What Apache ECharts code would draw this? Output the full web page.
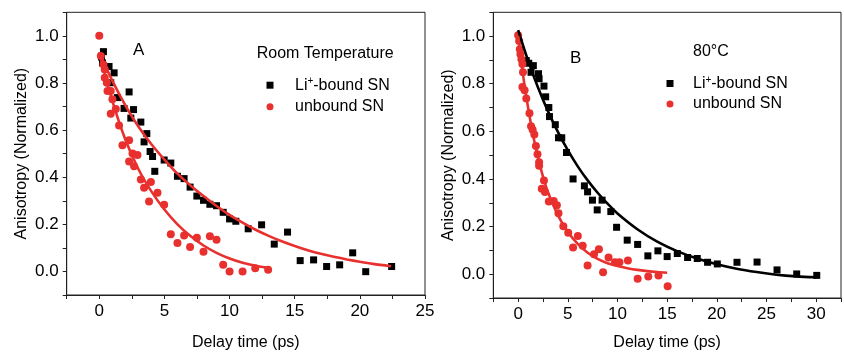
<!DOCTYPE html>
<html><head><meta charset="utf-8">
<script src="https://cdn.jsdelivr.net/npm/echarts@6/dist/echarts.min.js"></script>
<style>html,body{margin:0;padding:0;background:#fff}#c{width:844px;height:356px}</style>
</head><body><div id="c"></div>
<script>
// ---- tick labels ----
const xLabelsA = [0, 5, 10, 15, 20, 25];
const xLabelsB = [0, 5, 10, 15, 20, 25, 30];
const yLabels = [0, 0.2, 0.4, 0.6, 0.8, 1.0];
const seriesNames = ['Li+-bound SN', 'unbound SN'];

// ---- Panel A (room temperature) ----
const aBound = [[0.32,0.933],[0.17,0.91],[0.25,0.885],[0.75,0.87],[1.14,0.843],[0.88,0.801],[2.29,0.762],[1.4,0.738],[1.9,0.692],[2.63,0.687],[2.42,0.651],[3.19,0.634],[3.65,0.585],[3.44,0.55],[3.9,0.509],[4.09,0.488],[4.26,0.425],[4.98,0.473],[5.49,0.46],[6.0,0.404],[6.51,0.394],[6.97,0.358],[7.49,0.32],[8.0,0.302],[8.49,0.285],[9.0,0.279],[9.51,0.251],[10.0,0.223],[10.48,0.213],[11.43,0.181],[12.46,0.198],[13.43,0.116],[14.45,0.167],[15.42,0.046],[16.45,0.049],[17.45,0.021],[18.45,0.028],[19.45,0.079],[20.45,-0.001],[22.44,0.021]];
const aUnbound = [[0,1.0],[0.12,0.915],[0.32,0.878],[0.42,0.857],[0.42,0.822],[0.58,0.801],[0.63,0.766],[0.88,0.766],[1.01,0.731],[0.88,0.669],[1.27,0.69],[1.52,0.62],[1.78,0.536],[2.29,0.557],[2.55,0.501],[2.93,0.494],[2.29,0.467],[2.67,0.446],[3.19,0.39],[3.44,0.355],[3.96,0.38],[4.47,0.334],[3.82,0.297],[4.98,0.283],[5.49,0.158],[6.0,0.121],[6.51,0.153],[6.97,0.104],[7.49,0.143],[8.0,0.084],[8.49,0.149],[9.0,0.135],[9.51,0.028],[10.0,0.0],[11.0,0.0],[11.97,0.014],[12.96,0.007]];
const aBoundFit = [[0,0.93],[1,0.81],[2,0.705],[3,0.615],[4,0.54],[5,0.475],[6,0.415],[7,0.365],[8,0.32],[9,0.278],[10,0.24],[11,0.207],[12,0.177],[13,0.151],[14,0.128],[15,0.108],[16,0.09],[17,0.075],[18,0.062],[19,0.051],[20,0.041],[21,0.032],[22.4,0.022]];
const aUnboundFit = [[0,0.93],[1,0.725],[2,0.56],[3,0.435],[4,0.34],[5,0.263],[6,0.2],[7,0.15],[8,0.11],[9,0.079],[10,0.055],[11,0.037],[12,0.024],[13,0.015]];

// ---- Panel B (80 C) ----
const bBound = [[0.82,0.897],[1.07,0.886],[1.53,0.876],[1.3,0.848],[2.05,0.842],[2.11,0.821],[2.6,0.79],[2.77,0.745],[3.09,0.7],[3.16,0.662],[3.74,0.628],[4.06,0.573],[4.39,0.573],[4.87,0.511],[5.53,0.4],[6.67,0.371],[6.99,0.346],[7.48,0.311],[8.45,0.311],[7.96,0.27],[9.33,0.263],[9.91,0.197],[10.98,0.143],[12.03,0.125],[13.06,0.077],[14.07,0.098],[15.0,0.074],[16.02,0.087],[17.06,0.07],[18.03,0.066],[19.07,0.05],[20.05,0.043],[22.03,0.05],[24.05,0.051],[26.06,0.018],[28.04,0.001],[30.06,-0.005]];
const bUnbound = [[0,1.004],[0.1,0.979],[0.17,0.945],[0.23,0.924],[0.33,0.903],[0.43,0.883],[0.49,0.848],[0.43,0.786],[0.65,0.773],[0.82,0.738],[1.14,0.676],[1.3,0.621],[1.46,0.607],[1.63,0.587],[1.79,0.538],[1.95,0.504],[2.11,0.47],[2.11,0.456],[2.6,0.394],[2.38,0.359],[2.7,0.345],[3.09,0.305],[3.58,0.307],[3.9,0.29],[4.06,0.256],[4.55,0.201],[5.04,0.174],[6.01,0.16],[5.53,0.112],[6.5,0.119],[6.99,0.036],[7.64,0.084],[8.13,0.105],[8.55,0.008],[9.1,0.07],[9.75,0.05],[10.2,0.05],[11.05,0.057],[12.03,-0.019],[13.1,-0.01],[14.13,-0.005],[15.05,-0.051]];
const bBoundFit = [[0,1.025],[1,0.897],[2,0.784],[3,0.685],[4,0.598],[5,0.521],[6,0.453],[7,0.394],[8,0.342],[9,0.296],[10,0.255],[12,0.189],[14,0.137],[16,0.097],[18,0.066],[20,0.042],[22,0.023],[24,0.009],[26,-0.002],[28,-0.009],[30,-0.013]];
const bUnboundFit = [[0,1.0],[0.5,0.835],[1,0.7],[1.5,0.585],[2,0.49],[2.5,0.41],[3,0.345],[4,0.248],[5,0.178],[6,0.127],[7,0.09],[8,0.064],[9,0.046],[10,0.034],[11,0.025],[12,0.018],[13,0.013],[14,0.009],[15,0.006]];

const FONT = 'Liberation Sans, Arial, sans-serif';
const RED = '#e8302e';
const BLACK = '#000';
const AXC = '#222';

function has(list, v) { return list.some(t => Math.abs(t - v) < 1e-6); }

function xAxis(gi, min, max, labels, gap) {
  return {
    type: 'value', gridIndex: gi, min: min, max: max, interval: 2.5,
    name: 'Delay time (ps)', nameLocation: 'middle', nameGap: gap,
    nameTextStyle: { fontSize: 16, color: '#000', fontFamily: FONT },
    axisLine: { onZero: false, lineStyle: { color: AXC, width: 1 } },
    axisTick: { inside: false, length: 4, lineStyle: { color: AXC } },
    axisLabel: { margin: 8, fontSize: 17, color: '#000', fontFamily: FONT,
      formatter: v => has(labels, v) ? String(Math.round(v)) : '' },
    splitLine: { show: false }
  };
}
function yAxis(gi, gap) {
  return {
    type: 'value', gridIndex: gi, min: -0.1, max: 1.1, interval: 0.1,
    name: 'Anisotropy (Normalized)', nameLocation: 'middle', nameGap: gap,
    nameTextStyle: { fontSize: 16, color: '#000', fontFamily: FONT },
    axisLine: { onZero: false, lineStyle: { color: AXC, width: 1 } },
    axisTick: { inside: false, length: 4, lineStyle: { color: AXC } },
    axisLabel: { margin: 8, fontSize: 17, color: '#000', fontFamily: FONT,
      formatter: v => has(yLabels, v) ? v.toFixed(1) : '' },
    splitLine: { show: false }
  };
}
function scatter(name, data, gi, symbol, size, color) {
  return { type: 'scatter', name: name, xAxisIndex: gi, yAxisIndex: gi, data: data,
    symbol: symbol, symbolSize: size, itemStyle: { color: color, opacity: 1 }, z: 2, silent: true };
}
function fit(name, data, gi, color) {
  return { type: 'line', name: name, xAxisIndex: gi, yAxisIndex: gi, data: data,
    showSymbol: false, smooth: 0.3,
    lineStyle: { color: color, width: 2.6 }, z: 3, silent: true };
}
function legend(left, top, gapText, gap) {
  return {
    left: left, top: top, orient: 'vertical', padding: 0, itemWidth: 7, itemHeight: 7, itemGap: gap,
    selectedMode: false,
    data: [{ name: seriesNames[0], icon: 'rect' }, { name: seriesNames[1], icon: 'circle' }],
    formatter: n => n === seriesNames[0] ? '{g| }{n|Li}{s|+}{n|-bound SN}' : '{g| }{n|' + n + '}',
    textStyle: { fontSize: 16, color: '#000', fontFamily: FONT,
      rich: { g: { width: gapText, fontSize: 16 },
              n: { fontSize: 16, color: '#000', fontFamily: FONT },
              s: { fontSize: 10, color: '#000', fontFamily: FONT, verticalAlign: 'top', padding: [0, 0, 7, 0] } } }
  };
}

const chart = echarts.init(document.getElementById('c'), null, { renderer: 'canvas' });
chart.setOption({
  animation: false,
  backgroundColor: '#fff',
  grid: [
    { left: 66.7, top: 12.3, width: 358.3, height: 287.7, show: true, borderColor: AXC, borderWidth: 1, containLabel: false },
    { left: 493.3, top: 12.3, width: 359, height: 290.4, show: true, borderColor: AXC, borderWidth: 1, containLabel: false }
  ],
  xAxis: [xAxis(0, -2.5, 25, xLabelsA, 40), xAxis(1, -2.5, 32.5, xLabelsB, 37)],
  yAxis: [yAxis(0, 37), yAxis(1, 37)],
  legend: [legend(266.5, 76.7, 16.5, 5.6), legend(666.5, 75, 14.5, 4.4)],
  graphic: [
    { type: 'text', left: 256.7, top: 46, style: { text: 'Room Temperature', fontSize: 16, fill: '#000', fontFamily: FONT } },
    { type: 'text', left: 693, top: 44, style: { text: '80°C', fontSize: 16, fill: '#000', fontFamily: FONT } },
    { type: 'text', left: 133, top: 42, style: { text: 'A', fontSize: 17, fill: '#000', fontFamily: FONT } },
    { type: 'text', left: 570, top: 50, style: { text: 'B', fontSize: 17, fill: '#000', fontFamily: FONT } }
  ],
  series: [
    scatter(seriesNames[0], aBound, 0, 'rect', 7, BLACK),
    scatter(seriesNames[1], aUnbound, 0, 'circle', 8, RED),
    fit('fitA1', aBoundFit, 0, RED),
    fit('fitA2', aUnboundFit, 0, RED),
    scatter(seriesNames[0], bBound, 1, 'rect', 7, BLACK),
    scatter(seriesNames[1], bUnbound, 1, 'circle', 8, RED),
    fit('fitB1', bBoundFit, 1, BLACK),
    fit('fitB2', bUnboundFit, 1, RED)
  ]
});
</script>
</body></html>
